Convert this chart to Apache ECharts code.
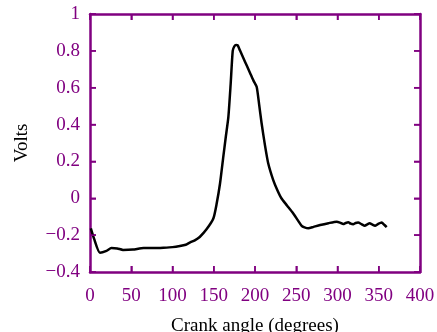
<!DOCTYPE html>
<html><head><meta charset="utf-8">
<script src="https://cdn.jsdelivr.net/npm/echarts@6/dist/echarts.min.js"></script>
<style>html,body{margin:0;padding:0;background:#fff}#c{width:437px;height:332px}</style>
</head><body><div id="c"></div>
<script>
var crankAngle = [1, 5, 12, 20, 26, 33, 40, 52, 65, 78, 89, 100, 109, 116, 121, 127, 133, 141, 149.5, 153.5, 157.6, 161.6, 164.5, 167.7, 170.5, 173, 175, 177, 179, 182, 186, 190, 194, 198, 202, 205, 208, 212, 216, 222, 227, 232, 239, 246, 252, 256.6, 260, 264.6, 271, 279, 289, 299, 303, 307, 310, 313, 316, 319, 322, 325, 329, 333, 336, 339, 342, 345.5, 349, 353.5, 357, 359.6];
var volts = [-0.163, -0.22, -0.295, -0.285, -0.27, -0.272, -0.28, -0.278, -0.27, -0.27, -0.268, -0.265, -0.259, -0.252, -0.24, -0.228, -0.21, -0.17, -0.11, -0.03, 0.08, 0.226, 0.33, 0.44, 0.62, 0.80, 0.825, 0.832, 0.83, 0.80, 0.76, 0.72, 0.68, 0.64, 0.605, 0.51, 0.407, 0.29, 0.19, 0.1, 0.045, 0.0, -0.04, -0.08, -0.12, -0.15, -0.158, -0.163, -0.155, -0.145, -0.135, -0.127, -0.132, -0.14, -0.134, -0.13, -0.138, -0.141, -0.134, -0.132, -0.14, -0.149, -0.142, -0.136, -0.142, -0.149, -0.14, -0.132, -0.145, -0.157];
var xTicks = [0, 50, 100, 150, 200, 250, 300, 350, 400];
var yTicks = [-0.4, -0.2, 0, 0.2, 0.4, 0.6, 0.8, 1];

var purple = '#800080';
var font = 'Liberation Serif';
var xMin = xTicks[0], xMax = xTicks[xTicks.length - 1];
var yMin = yTicks[0], yMax = yTicks[yTicks.length - 1];
var data = crankAngle.map(function (x, i) { return [x, volts[i]]; });
function fmt(v) {
  var s = String(Math.round(v * 10) / 10);
  return s.replace('-', '\u2212');
}
function line() { return { show: true, onZero: false, lineStyle: { color: purple, width: 2.5 } }; }
function tick() { return { show: true, inside: true, length: 6, lineStyle: { color: purple, width: 1.5 } }; }
function tickSeries(points, size, offset) {
  return {
    type: 'scatter', xAxisIndex: 0, yAxisIndex: 0, clip: false, silent: true,
    symbol: 'rect', symbolSize: size, symbolOffset: offset,
    itemStyle: { color: purple, opacity: 1 },
    data: points, z: 5
  };
}
var chart = echarts.init(document.getElementById('c'), null, { renderer: 'canvas' });
chart.setOption({
  animation: false,
  backgroundColor: '#fff',
  grid: { left: 90, right: 17, top: 14, bottom: 60, outerBoundsMode: 'none', containLabel: false },
  xAxis: [{
    type: 'value', position: 'bottom', min: xMin, max: xMax, interval: 50,
    name: 'Crank angle (degrees)', nameLocation: 'middle', nameGap: 45,
    nameTextStyle: { color: '#000', fontFamily: font, fontSize: 19 },
    axisLine: line(), axisTick: tick(),
    axisLabel: { color: purple, fontFamily: font, fontSize: 19, margin: 15, formatter: fmt },
    splitLine: { show: false }
  }, {
    type: 'value', position: 'top', min: xMin, max: xMax, interval: 50,
    axisLine: line(), axisTick: tick(), axisLabel: { show: false }, splitLine: { show: false }
  }],
  yAxis: [{
    type: 'value', position: 'left', min: yMin, max: yMax, interval: 0.2,
    name: 'Volts', nameLocation: 'middle', nameGap: 58,
    nameTextStyle: { color: '#000', fontFamily: font, fontSize: 19 },
    axisLine: line(), axisTick: tick(),
    axisLabel: { color: purple, fontFamily: font, fontSize: 19, margin: 10, formatter: fmt },
    splitLine: { show: false }
  }, {
    type: 'value', position: 'right', min: yMin, max: yMax, interval: 0.2,
    axisLine: line(), axisTick: tick(), axisLabel: { show: false }, splitLine: { show: false }
  }],
  series: [{
    type: 'line', data: data, showSymbol: false, smooth: 0.2,
    xAxisIndex: 0, yAxisIndex: 0,
    lineStyle: { color: '#000', width: 2.5 }
  },
  tickSeries(xTicks.map(function (v) { return [v, yMin]; }), [1.5, 6], [0, -3]),
  tickSeries(xTicks.map(function (v) { return [v, yMax]; }), [1.5, 6], [0, 3]),
  tickSeries(yTicks.map(function (v) { return [xMin, v]; }), [6, 1.5], [3, 0]),
  tickSeries(yTicks.map(function (v) { return [xMax, v]; }), [6, 1.5], [-3, 0])
  ]
});
</script></body></html>
